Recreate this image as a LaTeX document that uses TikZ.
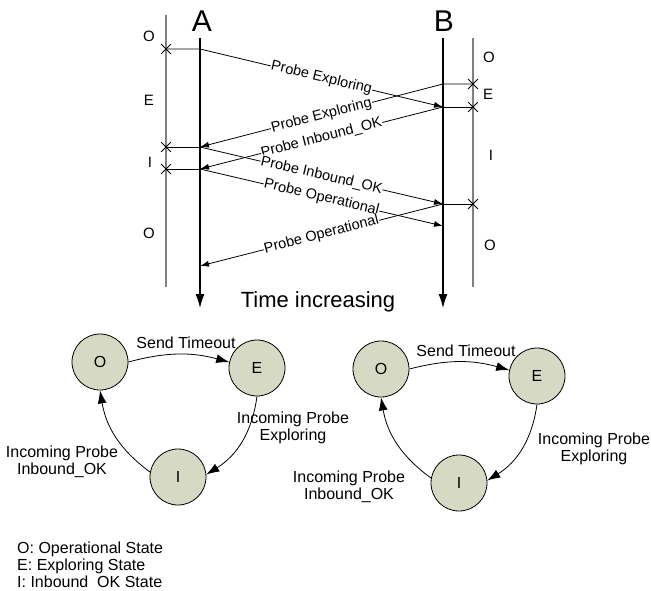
\documentclass[tikz,border=0pt]{standalone}
\usepackage{fontspec}
\setmainfont{Liberation Sans}
\usetikzlibrary{arrows.meta,shapes.misc,positioning}
\definecolor{statefill}{RGB}{214,217,196}
\definecolor{lanegray}{RGB}{128,128,128}

\begin{document}
\begin{tikzpicture}[x=1pt,y=-1pt,>={Latex[length=9pt,width=6pt]},
  msg/.style={->,line width=0.8pt},
  stub/.style={line width=0.8pt},
  lbl/.style={midway,sloped,fill=white,inner sep=0.5pt,font=\fontsize{14.5}{16}\selectfont},
  xmark/.style={draw,cross out,minimum size=9pt,inner sep=0pt,line width=0.8pt},
  life/.style={line width=1.3pt,-{Latex[length=14pt,width=9pt]}},
  lane/.style={lanegray,line width=1.5pt},
  st/.style={font=\fontsize{15}{18}\selectfont},
  fsm/.style={circle,draw,fill=statefill,minimum size=56pt,inner sep=0pt,line width=0.8pt,font=\fontsize{16}{18}\selectfont},
  trans/.style={line width=0.8pt,-{Latex[length=13pt,width=9pt]}},
  tlbl/.style={align=center,font=\fontsize{16}{17}\selectfont}]
\useasboundingbox (0,0) rectangle (651,591);
%\draw[help lines] (0,0) grid[step=50] (651,591);
\coordinate (Ltop) at (166,15); \coordinate (Lbot) at (166,287);
\coordinate (Atop) at (200,38); \coordinate (Abot) at (200,308);
\coordinate (Btop) at (443,38); \coordinate (Bbot) at (443,308);
\coordinate (Rtop) at (473,38); \coordinate (Rbot) at (473,287);
\path[lane] (Ltop) edge (Lbot) (Rtop) edge (Rbot);
\path[life] (Atop) edge (Abot) (Btop) edge (Bbot);
\path node[anchor=base,font=\fontsize{30}{30}\selectfont] (labA) at (202,32) {A};
\path node[anchor=base,font=\fontsize{30}{30}\selectfont] (labB) at (444,32) {B};
\path node[st] (lO1) at (149,36) {O};
\path node[st] (lE) at (149,100) {E};
\path node[st] (lI) at (150,162) {I};
\path node[st] (lO2) at (149,233) {O};
\path node[st] (rO1) at (489,57) {O};
\path node[st] (rE) at (488,94) {E};
\path node[st] (rI) at (491,155) {I};
\path node[st] (rO2) at (490,245) {O};
\coordinate (A1) at (200,49); \coordinate (A2) at (200,147);
\coordinate (A3) at (200,169); \coordinate (A4) at (200,266);
\coordinate (B1) at (443,84); \coordinate (B2) at (443,107);
\coordinate (B3) at (443,204); \coordinate (B4) at (443,226);
\path node[xmark] (xl1) at (166,49) {};
\path node[xmark] (xl2) at (166,147) {};
\path node[xmark] (xl3) at (166,169) {};
\path node[xmark] (xr1) at (473,84) {};
\path node[xmark] (xr2) at (473,107) {};
\path node[xmark] (xr3) at (473,204) {};
\draw[stub] (A2) -- (xl2.center);
\draw[stub] (A3) -- (xl3.center);
\draw[stub] (B2) -- (xr2.center);
\draw[stub] (B3) -- (xr3.center);
\draw[msg] (xl1.center) -- (A1) -- (B2) node[lbl] {Probe Exploring};
\draw[msg] (xr1.center) -- (B1) -- (A2) node[lbl] {Probe Exploring};
\draw[msg] (B2) -- (A3) node[lbl] {Probe Inbound\_OK};
\draw[msg] (A2) -- (B3) node[lbl] {Probe Inbound\_OK};
\draw[msg] (A3) -- (B4) node[lbl] {Probe Operational};
\draw[msg] (B3) -- (A4) node[lbl] {Probe Operational};
\path node[anchor=base,font=\fontsize{22}{24}\selectfont] (time) at (318,307) {Time increasing};
\path node[fsm] (O1) at (100,362) {O};
\path node[fsm] (E1) at (257,368) {E};
\path node[fsm] (I1) at (178,477) {I};
\path[trans] (O1.east) edge[bend left=15] (E1.168);
\path[trans] (E1.south) edge[bend left=25] (I1.5);
\path[trans] (I1.170) edge[bend left=22] (O1.south);
\path node[tlbl] (to1) at (186,343) {Send Timeout};
\path node[tlbl] (ex1) at (293,428) {Incoming Probe\\Exploring};
\path node[tlbl] (in1) at (62,462) {Incoming Probe\\Inbound\_OK};
\path node[fsm] (O2) at (381,369) {O};
\path node[fsm] (E2) at (537,376) {E};
\path node[fsm] (I2) at (459,483) {I};
\path[trans] (O2.east) edge[bend left=15] (E2.168);
\path[trans] (E2.south) edge[bend left=25] (I2.5);
\path[trans] (I2.170) edge[bend left=22] (O2.south);
\path node[tlbl] (to2) at (466,351) {Send Timeout};
\path node[tlbl] (ex2) at (594,449) {Incoming Probe\\Exploring};
\path node[tlbl] (in2) at (349,487) {Incoming Probe\\Inbound\_OK};
\path node[anchor=north west,align=left,inner sep=0pt,font=\fontsize{16}{17}\selectfont] (legend) at (17,542) {O: Operational State\\E: Exploring State\\I: Inbound\ \ OK State};
\end{tikzpicture}
\end{document}
